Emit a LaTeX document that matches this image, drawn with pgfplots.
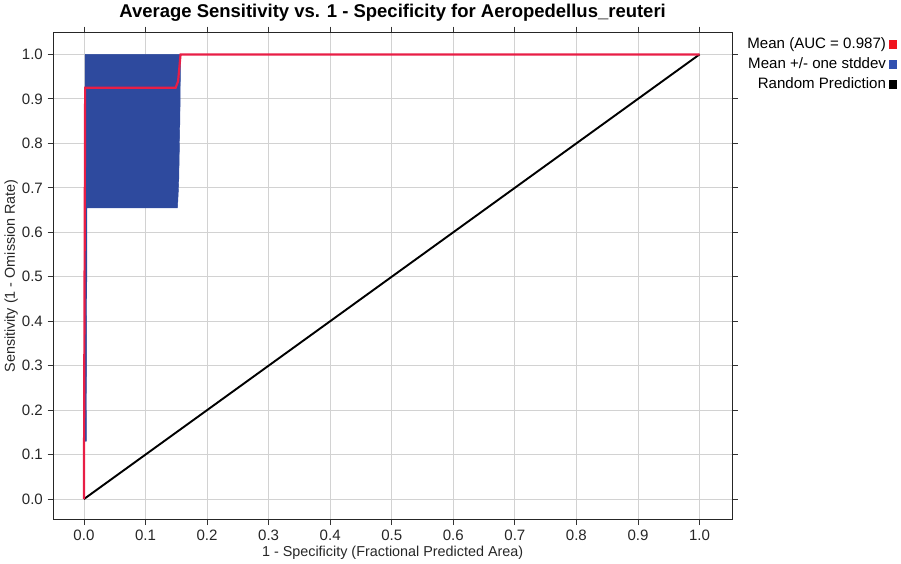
\documentclass[border=0pt]{standalone}
\usepackage{pgfplots}
\pgfplotsset{compat=1.18}
\usepackage{fontspec}
\setmainfont{Liberation Sans}

\definecolor{meanred}{RGB}{232,30,70}
\definecolor{bandblue}{RGB}{46,74,158}
\definecolor{legred}{RGB}{240,20,30}
\definecolor{legblue}{RGB}{50,80,175}

\begin{document}
\begin{tikzpicture}
\begin{axis}[
    scale only axis,
    width=496pt, height=356pt,
    xmin=-0.05, xmax=1.053,
    ymin=-0.046, ymax=1.05,
    xtick={0,0.1,...,1.0}, ytick={0,0.1,...,1.0},
    xticklabel style={/pgf/number format/.cd,fixed,fixed zerofill,precision=1},
    yticklabel style={/pgf/number format/.cd,fixed,fixed zerofill,precision=1},
    /pgf/number format/assume math mode=true,
    tick label style={font=\fontsize{11}{13}\selectfont, color=black!85},
    tick align=outside,
    major tick length=4pt,
    tick style={black!80, line width=0.6pt},
    grid=major,
    grid style={gray!35, line width=0.6pt},
    axis line style={black!85, line width=0.8pt},
    title={\bfseries Average Sensitivity vs. 1 - Specificity for Aeropedellus\_reuteri},
    title style={font=\fontsize{13.5}{15}\selectfont\bfseries, yshift=-2pt},
    xlabel={1 - Specificity (Fractional Predicted Area)},
    ylabel={Sensitivity (1 - Omission Rate)},
    label style={font=\fontsize{10.5}{12}\selectfont, color=black!85},
    xlabel style={yshift=3pt},
    ylabel style={yshift=-4pt},
    legend style={at={(1.012,1.0)}, anchor=north west, draw=none,
        font=\fontsize{11}{13}\selectfont, row sep=1pt,
        cells={anchor=east}},
    legend plot pos=right,
]
\addlegendimage{legend image code/.code={\fill[legred] (6pt,-2.8pt) rectangle (11.6pt,2.8pt);}}
\addlegendentry{Mean (AUC = 0.987)}
\addlegendimage{legend image code/.code={\fill[legblue] (6pt,-2.8pt) rectangle (11.6pt,2.8pt);}}
\addlegendentry{Mean +/- one stddev}
\addlegendimage{legend image code/.code={\fill[black] (6pt,-2.8pt) rectangle (11.6pt,2.8pt);}}
\addlegendentry{Random Prediction}

% mean +/- one stddev band
\addplot[forget plot, fill=bandblue, draw=bandblue, line width=0.3pt] coordinates {
    (0.002,0.13) (0.002,1.0) (0.157,1.0) (0.156,0.86) (0.154,0.71)
    (0.152,0.655) (0.005,0.655) (0.004,0.13)
} -- cycle;

% random prediction
\addplot[forget plot, black, line width=1.4pt] coordinates {(0,0) (1,1)};

% mean
\addplot[forget plot, meanred, line width=1.6pt] coordinates {
    (0,0) (0.002,0.925) (0.149,0.925) (0.153,0.94) (0.157,1.0) (1.0,1.0)
};
\end{axis}
\end{tikzpicture}
\end{document}
